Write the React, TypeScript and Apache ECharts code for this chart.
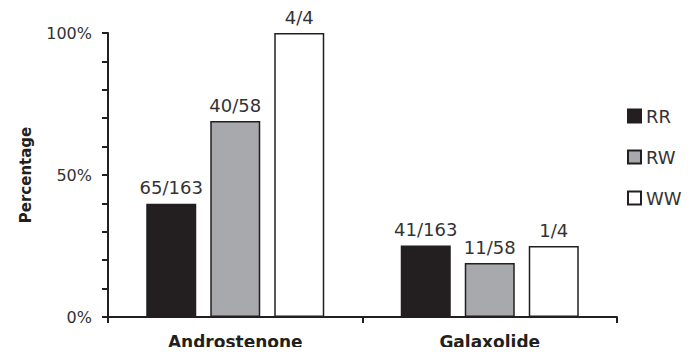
import React, { useEffect, useRef } from "react";
import * as echarts from "echarts";

const categories = ["Androstenone", "Galaxolide"];
const seriesNames = ["RR", "RW", "WW"];
const rrValues = [39.9, 25.2];
const rwValues = [69.0, 19.0];
const wwValues = [100, 25.0];
const rrLabels = ["65/163", "41/163"];
const rwLabels = ["40/58", "11/58"];
const wwLabels = ["4/4", "1/4"];
const yTickLabels: Record<number, string> = { 0: "0%", 50: "50%", 100: "100%" };

const colors = ["#231f20", "#a7a9ac", "#ffffff"];

export default function App() {
  const ref = useRef<HTMLDivElement>(null);
  useEffect(() => {
    if (!ref.current) return;
    const chart = echarts.init(ref.current, null, { renderer: "svg" });
    const valuesList = [rrValues, rwValues, wwValues];
    const labelsList = [rrLabels, rwLabels, wwLabels];
    chart.setOption({
      animation: false,
      backgroundColor: "#ffffff",
      textStyle: { fontFamily: "DejaVu Sans" },
      grid: { left: 108, right: 83, top: 33, bottom: 38, containLabel: false },
      legend: {
        orient: "vertical",
        left: 627,
        top: 107,
        padding: 0,
        itemWidth: 13,
        itemHeight: 13,
        itemGap: 23,
        icon: "rect",
        data: seriesNames,
        textStyle: { fontSize: 18, color: "#333333", lineHeight: 18, fontFamily: "DejaVu Sans" },
      },
      xAxis: {
        type: "category",
        data: categories,
        axisLine: { lineStyle: { color: "#231f20", width: 2 } },
        axisTick: { show: true, length: 6, lineStyle: { color: "#231f20", width: 2 } },
        axisLabel: { fontSize: 17, fontWeight: "bold", color: "#231f20", margin: 16, fontFamily: "DejaVu Sans" },
      },
      yAxis: {
        type: "value",
        min: 0,
        max: 100,
        interval: 10,
        name: "Percentage",
        nameLocation: "middle",
        nameGap: 75,
        nameRotate: 90,
        nameTextStyle: { fontSize: 15, fontWeight: "bold", color: "#231f20", fontFamily: "DejaVu Sans" },
        splitLine: { show: false },
        axisLine: { show: true, lineStyle: { color: "#231f20", width: 2 } },
        axisTick: { show: true, inside: false, length: 6, lineStyle: { color: "#231f20", width: 2 } },
        axisLabel: {
          fontSize: 16,
          color: "#333333",
          margin: 16,
          fontFamily: "DejaVu Sans",
          formatter: (v: number) => yTickLabels[v] ?? "",
        },
      },
      series: seriesNames.map((name, i) => ({
        name,
        type: "bar",
        barWidth: 50,
        barGap: "28%",
        data: valuesList[i],
        itemStyle: { color: colors[i], borderColor: "#231f20", borderWidth: 1.5 },
        label: {
          show: true,
          position: "top",
          distance: 7,
          fontSize: 18,
          color: "#333333",
          fontFamily: "DejaVu Sans",
          formatter: (p: any) => labelsList[i][p.dataIndex],
        },
      })),
    });
    return () => chart.dispose();
  }, []);
  return <div ref={ref} style={{ width: 700, height: 355, margin: -8 }} />;
}
